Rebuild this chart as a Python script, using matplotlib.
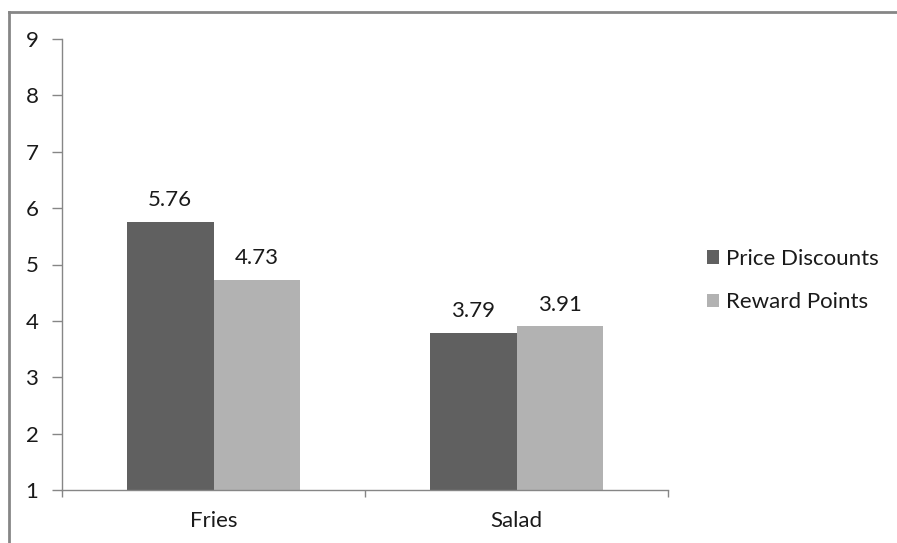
import matplotlib
matplotlib.use("Agg")
import matplotlib.pyplot as plt
from matplotlib.lines import Line2D
from matplotlib.patches import Patch
import numpy as np

categories = ["Fries", "Salad"]
series_names = ["Price Discounts", "Reward Points"]
price_discounts = [5.76, 3.79]
reward_points = [4.73, 3.91]
y_ticks = [1, 2, 3, 4, 5, 6, 7, 8, 9]

colors = ["#606060", "#b2b2b2"]
plt.rcParams['font.family'] = ['Lato', 'DejaVu Sans']
FS = 16
TXT = '#1a1a1a'

W, H = 897, 543
fig = plt.figure(figsize=(W / 100, H / 100), dpi=100)
ax = fig.add_axes([62 / W, 1 - 490 / H, (668 - 62) / W, (490 - 39) / H])

x = np.arange(len(categories))
bw = 0.287
base = 1
for i, (vals, c) in enumerate(zip([price_discounts, reward_points], colors)):
    pos = x + (i - 0.5) * bw
    heights = [v - base for v in vals]
    ax.bar(pos, heights, bw, bottom=base, color=c, edgecolor='none', zorder=2)
    for p, v in zip(pos, vals):
        ax.annotate(f"{v:.2f}", (p, v), xytext=(0, 11), textcoords='offset points',
                    ha='center', va='baseline', fontsize=FS, color=TXT)

ax.set_xlim(-0.5, 1.5)
ax.set_ylim(1, 9)
ax.set_yticks(y_ticks)
ax.set_yticklabels([str(t) for t in y_ticks], fontsize=FS, color=TXT)
ax.set_xticks([-0.5, 0.5, 1.5])
ax.set_xticklabels([])
ax.set_xticks(x, minor=True)
ax.set_xticklabels(categories, minor=True, fontsize=FS, color=TXT)
ax.tick_params(axis='x', which='minor', length=0, pad=15)
ax.tick_params(axis='x', which='major', length=5, width=1, color='#868686', direction='out')
ax.tick_params(axis='y', length=7, width=1, color='#868686', direction='out', pad=10)
for s in ['top', 'right']:
    ax.spines[s].set_visible(False)
for s in ['left', 'bottom']:
    ax.spines[s].set_color('#868686')
    ax.spines[s].set_linewidth(1)

handles = [Patch(facecolor=c, edgecolor='none') for c in colors]
fig.legend(handles, series_names, loc='center left', bbox_to_anchor=(707 / W, 1 - 280.5 / H),
           frameon=False, fontsize=FS, handlelength=0.55, handleheight=0.55,
           handletextpad=0.3, labelspacing=1.05, borderaxespad=0, borderpad=0,
           labelcolor=TXT)

# outer chart border
fig.add_artist(Line2D([8.5 / W, 8.5 / W], [0, 1 - 11.5 / H], color='#868686', lw=2, transform=fig.transFigure))
fig.add_artist(Line2D([8.5 / W, 1], [1 - 11.5 / H, 1 - 11.5 / H], color='#868686', lw=2, transform=fig.transFigure))

fig.savefig("out.png", dpi=100)
